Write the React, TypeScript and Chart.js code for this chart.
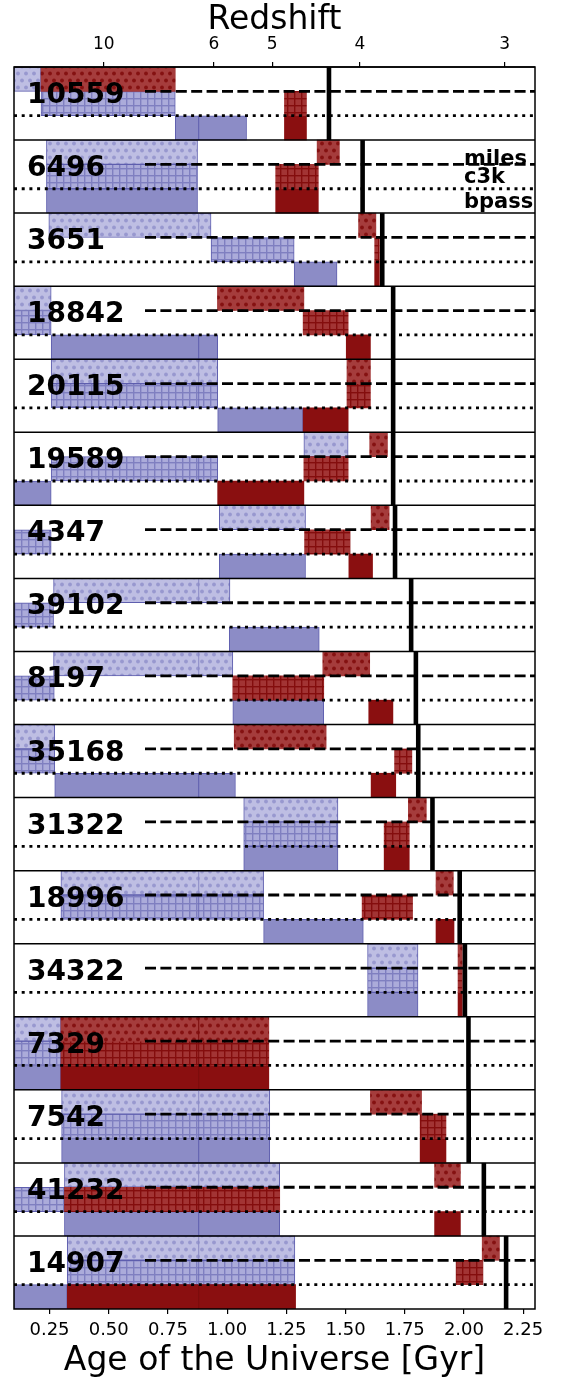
import React, { useEffect, useRef } from 'react';
import { Chart, registerables } from 'chart.js';

Chart.register(...registerables);

type Span = [number, number] | null;

const GALAXY_IDS = ['10559', '6496', '3651', '18842', '20115', '19589', '4347', '39102', '8197', '35168', '31322', '18996', '34322', '7329', '7542', '41232', '14907'];
const MODELS = ['miles', 'c3k', 'bpass'];

// observed age of each galaxy (thick black line), Gyr
const OBSERVED_AGE = [1.43, 1.572, 1.655, 1.701, 1.701, 1.701, 1.709, 1.777, 1.797, 1.807, 1.867, 1.982, 2.004, 2.019, 2.020, 2.084, 2.178];

const BLUE_MILES: Span[] = [[0.1, 0.214], [0.237, 0.875], [0.247, 0.932], [0.1, 0.257], [0.257, 0.96], [1.324, 1.511], [0.967, 1.331], [0.267, 1.012], [0.267, 1.024], [0.1, 0.272], [1.07, 1.468], [0.298, 1.154], [1.593, 1.806], [0.1, 0.298], [0.301, 1.18], [0.313, 1.222], [0.325, 1.286]];
const BLUE_C3K: Span[] = [[0.214, 0.781], [0.237, 0.875], [0.932, 1.283], [0.1, 0.257], [0.257, 0.96], [0.257, 0.96], [0.1, 0.257], [0.1, 0.267], [0.1, 0.27], [0.1, 0.272], [1.07, 1.468], [0.298, 1.154], [1.593, 1.806], [0.1, 0.298], [0.301, 1.18], [0.1, 0.313], [0.325, 1.286]];
const BLUE_BPASS: Span[] = [[0.781, 1.082], [0.237, 0.875], [1.283, 1.464], [0.257, 0.96], [0.96, 1.321], [0.1, 0.257], [0.967, 1.331], [1.009, 1.389], [1.024, 1.408], [0.272, 1.035], [1.07, 1.468], [1.154, 1.575], [1.593, 1.806], [0.1, 0.298], [0.301, 1.18], [0.313, 1.222], [0.1, 0.325]];

const RED_MILES: Span[] = [[0.214, 0.781], [1.38, 1.474], [1.555, 1.628], [0.959, 1.324], [1.506, 1.605], [1.602, 1.677], [1.608, 1.684], null, [1.404, 1.602], [1.03, 1.418], [1.765, 1.841], [1.882, 1.955], [1.975, 1.993], [0.298, 1.176], [1.605, 1.821], [1.876, 1.985], [2.077, 2.15]];
const RED_C3K: Span[] = [[1.242, 1.335], [1.205, 1.385], [1.623, 1.643], [1.321, 1.511], [1.506, 1.605], [1.324, 1.511], [1.327, 1.519], null, [1.024, 1.408], [1.707, 1.78], [1.663, 1.769], [1.57, 1.783], [1.975, 1.993], [0.298, 1.176], [1.815, 1.924], [0.313, 1.222], [1.967, 2.08]];
const RED_BPASS: Span[] = [[1.242, 1.335], [1.205, 1.385], [1.623, 1.643], [1.503, 1.605], [1.321, 1.511], [0.96, 1.324], [1.514, 1.614], null, [1.598, 1.7], [1.608, 1.712], [1.663, 1.769], [1.882, 1.958], [1.975, 1.993], [0.298, 1.176], [1.815, 1.924], [1.876, 1.985], [0.325, 1.289]];

const AGE_TICKS = [0.25, 0.5, 0.75, 1.0, 1.25, 1.5, 1.75, 2.0, 2.25];
const REDSHIFT_LABELS = ['10', '6', '5', '4', '3'];
const REDSHIFT_AGES = [0.479, 0.944, 1.19, 1.561, 2.172];
const X_MIN = 0.1;
const X_MAX = 2.3;
const SPLIT_AGE = 0.88;
const KEY_PANEL = 1;
const KEY_AGE = 2.0;

const ROW_LABELS = GALAXY_IDS.flatMap((id) => MODELS.map((m) => `${id}-${m}`));

function dotPattern(ctx: CanvasRenderingContext2D, base: string, dot: string) {
  const c = document.createElement('canvas');
  c.width = 8; c.height = 14;
  const g = c.getContext('2d')!;
  g.fillStyle = base; g.fillRect(0, 0, 8, 14);
  g.fillStyle = dot;
  [[2, 3.5], [6, 10.5]].forEach(([x, y]) => { g.beginPath(); g.arc(x, y, 1.9, 0, Math.PI * 2); g.fill(); });
  return ctx.createPattern(c, 'repeat');
}
function gridPattern(ctx: CanvasRenderingContext2D, base: string, line: string) {
  const c = document.createElement('canvas');
  c.width = 7; c.height = 7;
  const g = c.getContext('2d')!;
  g.fillStyle = base; g.fillRect(0, 0, 7, 7);
  g.fillStyle = line; g.fillRect(0, 0, 7, 1.4); g.fillRect(0, 0, 1.4, 7);
  return ctx.createPattern(c, 'repeat');
}

const overlay = {
  id: 'panelOverlay',
  afterDatasetsDraw(chart: any) {
    const { ctx, chartArea: ca } = chart;
    const xs = chart.scales.x;
    const ys = chart.scales.y;
    const rowH = (ca.bottom - ca.top) / ROW_LABELS.length;
    const line = (x1: number, y1: number, x2: number, y2: number) => { ctx.beginPath(); ctx.moveTo(x1, y1); ctx.lineTo(x2, y2); ctx.stroke(); };
    ctx.save();
    // internal seam of bars crossing SPLIT_AGE
    chart.data.datasets.forEach((ds: any, di: number) => {
      const meta = chart.getDatasetMeta(di);
      meta.data.forEach((el: any, j: number) => {
        const v = ds.data[j];
        if (!v || !(v[0] < SPLIT_AGE && v[1] > SPLIT_AGE)) return;
        const px = xs.getPixelForValue(SPLIT_AGE);
        ctx.strokeStyle = ds.seamColor; ctx.lineWidth = 1;
        line(px, el.y - el.height / 2, px, el.y + el.height / 2);
      });
    });
    ctx.strokeStyle = '#000';
    ctx.lineCap = 'butt';
    GALAXY_IDS.forEach((id, i) => {
      const top = ys.getPixelForValue(i * 3) - rowH / 2;
      const bottom = top + rowH * 3;
      const dashY = top + rowH;
      const dotY = top + rowH * 2;
      ctx.lineWidth = 2.8;
      ctx.setLineDash([3, 4.7]);
      line(ca.left, dotY, ca.right, dotY);
      ctx.setLineDash([11, 4.4]);
      line(ca.left + 131, dashY, ca.right, dashY);
      ctx.setLineDash([]);
      const ox = xs.getPixelForValue(OBSERVED_AGE[i]);
      ctx.lineWidth = 4.6;
      line(ox, top, ox, bottom);
      ctx.lineWidth = 1.5;
      line(ca.left, top, ca.right, top);
      ctx.fillStyle = '#000';
      ctx.font = 'bold 28px "DejaVu Sans"';
      ctx.textAlign = 'left';
      ctx.textBaseline = 'alphabetic';
      ctx.fillText(id, ca.left + 13, top + 36);
    });
    ctx.lineWidth = 1.5;
    ctx.strokeRect(ca.left, ca.top, ca.right - ca.left, ca.bottom - ca.top);
    // model key
    const kTop = ys.getPixelForValue(KEY_PANEL * 3) - rowH / 2;
    const kx = xs.getPixelForValue(KEY_AGE);
    ctx.font = 'bold 21px "DejaVu Sans"';
    ctx.fillStyle = '#000';
    ctx.fillText(MODELS[0], kx, kTop + rowH + 0.5);
    ctx.fillText(MODELS[1], kx, kTop + rowH * 1.5 + 6.5);
    ctx.fillText(MODELS[2], kx, kTop + rowH * 2.5 + 7);
    ctx.restore();
  },
};

export default function App() {
  const ref = useRef<HTMLCanvasElement>(null);
  useEffect(() => {
    const canvas = ref.current!;
    const c2d = canvas.getContext('2d')!;
    Chart.defaults.font.family = '"DejaVu Sans"';
    Chart.defaults.color = '#000';

    const blueEdge = '#5e5eae';
    const series = [
      { values: RED_MILES, model: 0, bg: dotPattern(c2d, '#a53c3c', '#851111'), border: 0, seam: '#7a0c0c' },
      { values: RED_C3K, model: 1, bg: gridPattern(c2d, '#a23434', '#840d0d'), border: 0, seam: '#7a0c0c' },
      { values: RED_BPASS, model: 2, bg: '#8a0f10', border: 0, seam: '#7a0c0c' },
      { values: BLUE_MILES, model: 0, bg: dotPattern(c2d, '#bebee3', '#9898cf'), border: 1, seam: '#8a8ac6' },
      { values: BLUE_C3K, model: 1, bg: gridPattern(c2d, '#ababda', '#7f7fc0'), border: 1, seam: '#6e6eb8' },
      { values: BLUE_BPASS, model: 2, bg: '#8c8cc6', border: 1, seam: '#5e5eae' },
    ];
    const datasets = series.map((s) => ({
      data: ROW_LABELS.map((_, r) => (r % 3 === s.model ? s.values[Math.floor(r / 3)] : null)),
      backgroundColor: s.bg,
      borderColor: blueEdge,
      borderWidth: s.border,
      borderSkipped: false,
      barPercentage: 1,
      categoryPercentage: 1,
      grouped: false,
      seamColor: s.seam,
    }));

    const titleFont = { size: 33, family: '"DejaVu Sans"', lineHeight: 1 };
    const chart = new Chart(canvas, {
      type: 'bar',
      data: { labels: ROW_LABELS, datasets: datasets as any },
      options: {
        indexAxis: 'y',
        animation: false,
        responsive: false,
        devicePixelRatio: 1,
        layout: { padding: { left: 14, right: 30, top: 0, bottom: 0 } },
        plugins: { legend: { display: false }, tooltip: { enabled: false } },
        scales: {
          y: { type: 'category', display: false, offset: true },
          x: {
            type: 'linear', position: 'bottom', min: X_MIN, max: X_MAX,
            afterBuildTicks: (s: any) => { s.ticks = AGE_TICKS.map((v) => ({ value: v })); },
            afterFit: (s: any) => { s.height = 73; },
            ticks: { font: { size: 18, family: '"DejaVu Sans"' }, color: '#000', padding: 6, autoSkip: false, maxRotation: 0, callback: (v: any) => Number(v).toFixed(2) },
            grid: { display: true, drawOnChartArea: false, drawTicks: true, tickLength: 5, color: '#000', lineWidth: 1.2 },
            border: { display: false },
            title: { display: true, text: 'Age of the Universe [Gyr]', font: titleFont, color: '#000', padding: { top: 0, bottom: 4 } },
          },
          x2: {
            type: 'linear', position: 'top', min: X_MIN, max: X_MAX,
            afterBuildTicks: (s: any) => { s.ticks = REDSHIFT_AGES.map((v) => ({ value: v })); },
            afterFit: (s: any) => { s.height = 67; },
            ticks: { font: { size: 17, family: '"DejaVu Sans"' }, color: '#000', padding: 6.8, autoSkip: false, maxRotation: 0, callback: (_v: any, i: number) => REDSHIFT_LABELS[i] },
            grid: { display: true, drawOnChartArea: false, drawTicks: true, tickLength: 5, color: '#000', lineWidth: 1.2 },
            border: { display: false },
            title: { display: true, text: 'Redshift', font: titleFont, color: '#000', padding: { top: 3.5, bottom: 0 } },
          },
        },
      } as any,
      plugins: [overlay],
    });
    return () => chart.destroy();
  }, []);
  return (
    <div style={{ position: 'absolute', left: 0, top: 0, width: 565, height: 1382, background: '#fff' }}>
      <canvas ref={ref} width={565} height={1382} style={{ display: 'block', width: 565, height: 1382 }} />
    </div>
  );
}
